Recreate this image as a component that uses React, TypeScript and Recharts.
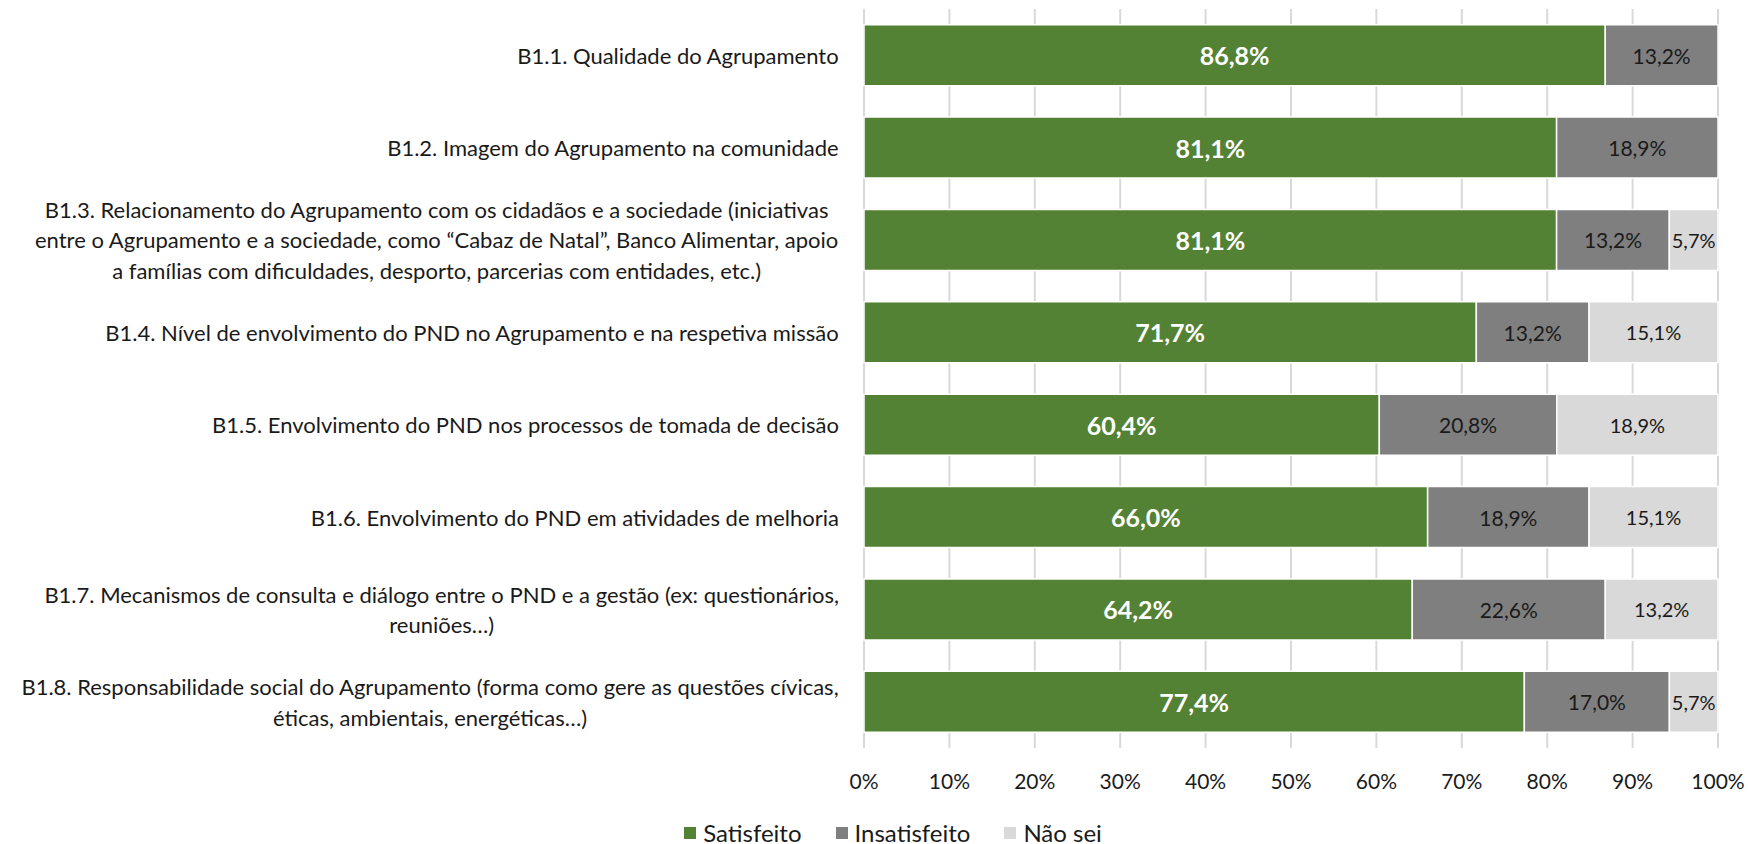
import React from "react";
import { BarChart, Bar, XAxis, YAxis, CartesianGrid, LabelList, Legend } from "recharts";

const categories: string[] = [
  "B1.1. Qualidade do Agrupamento",
  "B1.2. Imagem do Agrupamento na comunidade",
  "B1.3. Relacionamento do Agrupamento com os cidadãos e a sociedade (iniciativas\nentre o Agrupamento e a sociedade, como “Cabaz de Natal”, Banco Alimentar, apoio\na famílias com dificuldades, desporto, parcerias com entidades, etc.)",
  "B1.4. Nível de envolvimento do PND no Agrupamento e na respetiva missão",
  "B1.5. Envolvimento do PND nos processos de tomada de decisão",
  "B1.6. Envolvimento do PND em atividades de melhoria",
  "B1.7. Mecanismos de consulta e diálogo entre o PND e a gestão (ex: questionários,\nreuniões…)",
  "B1.8. Responsabilidade social do Agrupamento (forma como gere as questões cívicas,\néticas, ambientais, energéticas…)",
];
const satisfeito: number[] = [86.8, 81.1, 81.1, 71.7, 60.4, 66.0, 64.2, 77.4];
const insatisfeito: number[] = [13.2, 18.9, 13.2, 13.2, 20.8, 18.9, 22.6, 17.0];
const naoSei: number[] = [0, 0, 5.7, 15.1, 18.9, 15.1, 13.2, 5.7];
const xTicks: number[] = [0, 0.1, 0.2, 0.3, 0.4, 0.5, 0.6, 0.7, 0.8, 0.9, 1];
const seriesNames = ["Satisfeito", "Insatisfeito", "Não sei"];

const data = categories.map((name, i) => ({
  name,
  sat: satisfeito[i],
  ins: insatisfeito[i],
  nao: naoSei[i],
}));

const FONT = "Lato";
const LABEL_SIZE = 22;
const LINE_H = 30.7;
const LABEL_RIGHT = 839;
const GREEN = "#548235";
const GRAY = "#7F7F7F";
const LIGHT = "#D9D9D9";
const TEXT = "#1a1a1a";

let ctx: CanvasRenderingContext2D | null = null;
function measure(s: string, size: number): number {
  if (!ctx) {
    const c = document.createElement("canvas");
    ctx = c.getContext("2d");
  }
  if (!ctx) return s.length * size * 0.5;
  ctx.font = `${size}px ${FONT}`;
  return ctx.measureText(s).width;
}

const CategoryTick = (props: any) => {
  const { y, payload } = props;
  const lines: string[] = String(payload.value).split("\n");
  const widths = lines.map((l) => measure(l, LABEL_SIZE));
  const blockW = Math.max(...widths);
  const cx = LABEL_RIGHT - blockW / 2;
  const n = lines.length;
  return (
    <g>
      {lines.map((l, i) => (
        <text
          key={i}
          x={cx}
          y={y + (i - (n - 1) / 2) * LINE_H}
          textAnchor="middle"
          dominantBaseline="central"
          fontFamily={FONT}
          fontSize={LABEL_SIZE}
          fill={TEXT}
        >
          {l}
        </text>
      ))}
    </g>
  );
};

const PctTick = (props: any) => {
  const { x, payload } = props;
  return (
    <text
      x={x}
      y={780}
      textAnchor="middle"
      dominantBaseline="central"
      fontFamily={FONT}
      fontSize={21}
      fill={TEXT}
    >
      {Math.round(payload.value * 100) + "%"}
    </text>
  );
};

const fmt = (v: any) => (v ? Number(v).toFixed(1).replace(".", ",") + "%" : "");

const makeLabel = (color: string, size: number, bold: boolean) => (p: any) => {
  const { x, y, width, height, value } = p;
  const t = fmt(value);
  if (!t) return null;
  return (
    <text
      x={x + width / 2}
      y={y + height / 2}
      textAnchor="middle"
      dominantBaseline="central"
      fontFamily={FONT}
      fontSize={size}
      fontWeight={bold ? 700 : 400}
      fill={color}
    >
      {t}
    </text>
  );
};

const LegendContent = () => {
  const colors = [GREEN, GRAY, LIGHT];
  return (
    <div
      style={{
        display: "flex",
        justifyContent: "center",
        alignItems: "center",
        fontFamily: FONT,
        fontSize: 24,
        color: TEXT,
        paddingLeft: 72,
      }}
    >
      {seriesNames.map((n, i) => (
        <div key={n} style={{ display: "flex", alignItems: "center", marginRight: 34 }}>
          <span
            style={{
              display: "inline-block",
              width: 12,
              height: 12,
              background: colors[i],
              marginRight: 7,
            }}
          />
          <span>{n}</span>
        </div>
      ))}
    </div>
  );
};

export default function App() {
  return (
    <div style={{ position: "absolute", left: 0, top: 0, width: 1748, height: 844, background: "#fff" }}>
      <BarChart
        width={1748}
        height={844}
        data={data}
        layout="vertical"
        stackOffset="expand"
        barCategoryGap="17%"
        margin={{ top: 9, right: 30, bottom: 36, left: 0 }}
      >
        <CartesianGrid horizontal={false} stroke={LIGHT} strokeWidth={2} />
        <XAxis
          type="number"
          domain={[0, 1]}
          ticks={xTicks}
          tick={<PctTick />}
          tickLine={false}
          axisLine={false}
          height={60}
          interval={0}
        />
        <YAxis
          type="category"
          dataKey="name"
          width={864}
          tick={<CategoryTick />}
          tickLine={false}
          axisLine={false}
          interval={0}
        />
        <Legend
          layout="horizontal"
          verticalAlign="middle"
          content={<LegendContent />}
          wrapperStyle={{ top: 818, left: 0, width: 1748 }}
        />
        <Bar dataKey="sat" name={seriesNames[0]} stackId="a" fill={GREEN} stroke="#fff" strokeWidth={1.5} isAnimationActive={false}>
          <LabelList dataKey="sat" content={makeLabel("#ffffff", 25, true)} />
        </Bar>
        <Bar dataKey="ins" name={seriesNames[1]} stackId="a" fill={GRAY} stroke="#fff" strokeWidth={1.5} isAnimationActive={false}>
          <LabelList dataKey="ins" content={makeLabel(TEXT, 21, false)} />
        </Bar>
        <Bar dataKey="nao" name={seriesNames[2]} stackId="a" fill={LIGHT} stroke="#fff" strokeWidth={1.5} isAnimationActive={false}>
          <LabelList dataKey="nao" content={makeLabel(TEXT, 20, false)} />
        </Bar>
      </BarChart>
    </div>
  );
}
